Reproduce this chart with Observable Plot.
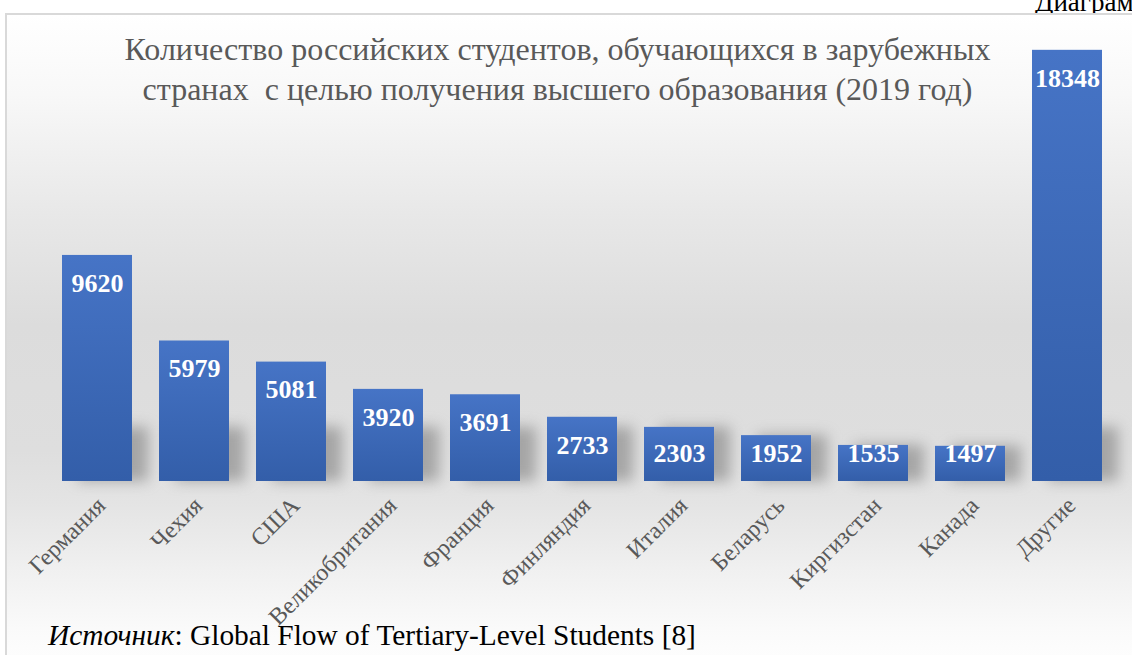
<!DOCTYPE html>
<html>
<head>
<meta charset="utf-8">
<script src="https://cdn.jsdelivr.net/npm/d3@7"></script>
<script src="https://cdn.jsdelivr.net/npm/@observablehq/plot@0.6"></script>
<style>
  html, body { margin:0; padding:0; width:1132px; height:655px; overflow:hidden; background:#fff; }
  #frame { position:absolute; left:5px; top:13px; width:1140px; height:660px;
    border-left:2px solid #d9d9d9; border-top:2px solid #d9d9d9;
    background: linear-gradient(to bottom, #ffffff 0%, #f8f8f8 12%, #e8e8e8 30%, #dcdcdc 47%, #dedede 66%, #e4e4e4 74%, #f0f0f0 84%, #fafafa 93%, #ffffff 100%); }
  #chart { position:absolute; left:0; top:0; }
  #title { position:absolute; left:0; width:1115px; top:29px; text-align:center; font-family:"Liberation Serif", "Times New Roman", serif;
    font-size:32px; line-height:40px; color:#595959; white-space:pre; }
  #caption { position:absolute; left:48px; top:619px; font-family:"Liberation Serif", "Times New Roman", serif; font-size:29.4px; color:#000; white-space:pre; }
  #corner { position:absolute; left:1035px; top:-13px; font-family:"Liberation Serif", "Times New Roman", serif; font-size:27px; color:#000; white-space:pre; }
</style>
</head>
<body>
<div id="corner">Диаграмма</div>
<div id="frame"></div>
<div id="chart"></div>
<div id="title">Количество российских студентов, обучающихся в зарубежных
странах  с целью получения высшего образования (2019 год)</div>
<div id="caption"><i>Источник</i>: Global Flow of Tertiary-Level Students [8]</div>
<script>
const categories = ["Германия","Чехия","США","Великобритания","Франция","Финляндия","Италия","Беларусь","Киргизстан","Канада","Другие"];
const values = [9620, 5979, 5081, 3920, 3691, 2733, 2303, 1952, 1535, 1497, 18348];

const data = categories.map((c, i) => ({country: c, value: values[i]}));

const defs = () => {
  const ns = "http://www.w3.org/2000/svg";
  const d = document.createElementNS(ns, "defs");
  d.innerHTML = `<linearGradient id="barGrad" x1="0" y1="0" x2="0" y2="1">
      <stop offset="0%" stop-color="#4674c6"/>
      <stop offset="100%" stop-color="#335ea9"/>
    </linearGradient>`;
  return d;
};

const serif = "Liberation Serif, Times New Roman, serif";

const chart = Plot.plot({
  width: 1132,
  height: 655,
  marginLeft: 46,
  marginRight: 14,
  marginTop: 11,
  marginBottom: 174,
  style: {background: "transparent", fontFamily: serif, overflow: "visible"},
  x: {domain: categories, paddingInner: 0.28, paddingOuter: 0.14, label: null},
  y: {domain: [0, 20000], axis: null},
  marks: [
    defs,
    Plot.barY(data, {x: "country", y1: 0, y2: d => Math.min(d.value, 2300), fill: "#777", fillOpacity: 0.55, dx: 16, imageFilter: "blur(7px)"}),
    Plot.barY(data, {x: "country", y: "value", fill: "url(#barGrad)"}),
    Plot.text(data, {x: "country", y: d => Math.max(d.value, 2384), text: d => String(d.value), dy: 28,
      fill: "white", fontWeight: "bold", fontSize: 26, fontFamily: serif}),
    Plot.axisX({tickSize: 0, tickPadding: 20, tickRotate: -45, fontSize: 24, fill: "#595959", label: null, fontFamily: serif, dx: 4})
  ]
});
document.getElementById("chart").appendChild(chart);
</script>
</body>
</html>
